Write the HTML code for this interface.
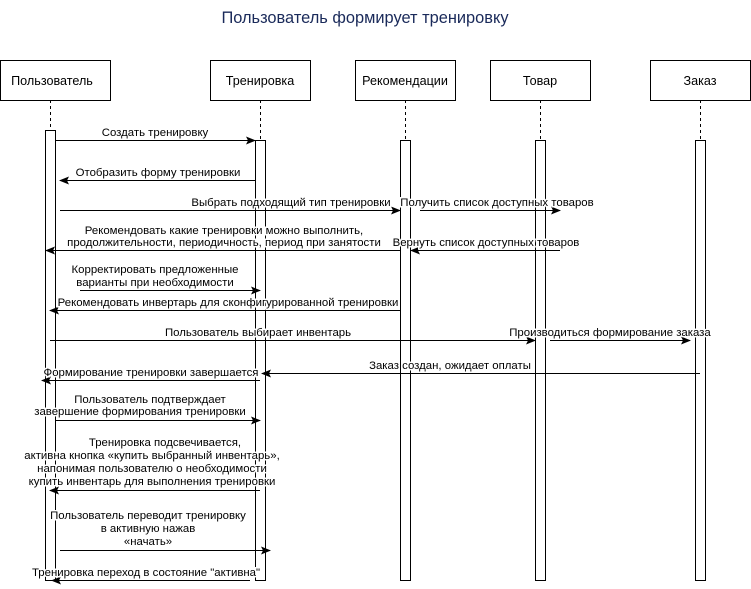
<!DOCTYPE html>
<html><head><meta charset="utf-8"><style>
body{margin:0;background:#fff}
svg{display:block}
text{font-family:"Liberation Sans",sans-serif;font-size:11.4px;fill:#000}
.l{paint-order:stroke;stroke:#fff;stroke-width:3px}
.b{font-size:12.6px}
</style></head><body>
<svg width="751" height="589" viewBox="0 0 751 589">
<defs><marker id="a" markerWidth="10" markerHeight="8" refX="9" refY="4" orient="auto" markerUnits="userSpaceOnUse"><path d="M0,0 L10,4 L0,8 L2,4z" fill="#000"/></marker></defs>
<text x="365" y="23" text-anchor="middle" style="font-size:16.4px;fill:#1a2a5a">Пользователь формирует тренировку</text>
<g fill="#fff" stroke="#000">
<rect x="0.5" y="60.5" width="110" height="40"/>
<rect x="210.5" y="60.5" width="100" height="40"/>
<rect x="355.5" y="60.5" width="100" height="40"/>
<rect x="490.5" y="60.5" width="100" height="40"/>
<rect x="650.5" y="60.5" width="100" height="40"/>
</g>
<text class="b" x="52" y="85" text-anchor="middle">Пользователь</text>
<text class="b" x="260" y="85" text-anchor="middle">Тренировка</text>
<text class="b" x="405" y="85" text-anchor="middle">Рекомендации</text>
<text class="b" x="540" y="85" text-anchor="middle">Товар</text>
<text class="b" x="700" y="85" text-anchor="middle">Заказ</text>
<g stroke="#000" stroke-dasharray="3,3">
<line x1="50.5" y1="100" x2="50.5" y2="130"/>
<line x1="260.5" y1="100" x2="260.5" y2="140"/>
<line x1="405.5" y1="100" x2="405.5" y2="140"/>
<line x1="540.5" y1="100" x2="540.5" y2="140"/>
<line x1="700.5" y1="100" x2="700.5" y2="140"/>
</g>
<g fill="#fff" stroke="#000">
<rect x="45.5" y="130.5" width="10" height="450"/>
<rect x="255.5" y="140.5" width="10" height="440"/>
<rect x="400.5" y="140.5" width="10" height="440"/>
<rect x="535.5" y="140.5" width="10" height="440"/>
<rect x="695.5" y="140.5" width="10" height="440"/>
</g>
<g stroke="#000" marker-end="url(#a)">
<line x1="55" y1="140.5" x2="255" y2="140.5"/>
<line x1="255" y1="180.5" x2="60" y2="180.5"/>
<line x1="60" y1="210.5" x2="400" y2="210.5"/>
<line x1="420" y1="210.5" x2="560" y2="210.5"/>
<line x1="400" y1="250.5" x2="46" y2="250.5"/>
<line x1="560" y1="250.5" x2="411" y2="250.5"/>
<line x1="80" y1="290.5" x2="260" y2="290.5"/>
<line x1="400" y1="310.5" x2="50" y2="310.5"/>
<line x1="50" y1="340.5" x2="535" y2="340.5"/>
<line x1="550" y1="340.5" x2="690" y2="340.5"/>
<line x1="700" y1="373.5" x2="262" y2="373.5"/>
<line x1="260" y1="380.5" x2="42" y2="380.5"/>
<line x1="55" y1="420.5" x2="260" y2="420.5"/>
<line x1="260" y1="490.5" x2="50" y2="490.5"/>
<line x1="60" y1="550.5" x2="270" y2="550.5"/>
<line x1="250" y1="580.5" x2="52" y2="580.5"/>
</g>
<g text-anchor="middle">
<text class="l" x="155" y="136">Создать тренировку</text>
<text class="l" x="158" y="176">Отобразить форму тренировки</text>
<text class="l" x="291" y="206">Выбрать подходящий тип тренировки</text>
<text class="l" x="497" y="206">Получить список доступных товаров</text>
<text class="l" x="224" y="234">Рекомендовать какие тренировки можно выполнить,</text>
<text class="l" x="224" y="246">продолжительности, периодичность, период при занятости</text>
<text class="l" x="486" y="246">Вернуть список доступных товаров</text>
<text class="l" x="155" y="273">Корректировать предложенные</text>
<text class="l" x="155" y="286">варианты при необходимости</text>
<text class="l" x="228" y="306">Рекомендовать инвертарь для сконфигурированной тренировки</text>
<text class="l" x="258" y="336">Пользователь выбирает инвентарь</text>
<text class="l" x="610" y="336">Производиться формирование заказа</text>
<text class="l" x="450" y="369">Заказ создан, ожидает оплаты</text>
<text class="l" x="151" y="376">Формирование тренировки завершается</text>
<text class="l" x="150" y="403">Пользователь подтверждает</text>
<text class="l" x="140" y="415">завершение формирования тренировки</text>
<text class="l" x="165" y="446">Тренировка подсвечивается,</text>
<text class="l" x="152" y="459">активна кнопка «купить выбранный инвентарь»,</text>
<text class="l" x="152" y="472">напонимая пользователю о необходимости</text>
<text class="l" x="152" y="485">купить инвентарь для выполнения тренировки</text>
<text class="l" x="148" y="519">Пользователь переводит тренировку</text>
<text class="l" x="148" y="532">в активную нажав</text>
<text class="l" x="148" y="545">«начать»</text>
<text class="l" x="146" y="576">Тренировка переход в состояние "активна"</text>
</g>
</svg>
</body></html>
